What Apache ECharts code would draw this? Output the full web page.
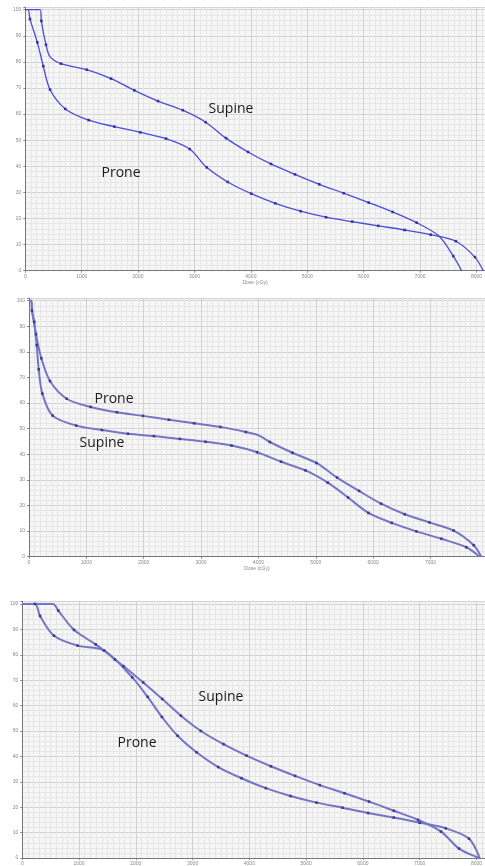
<!DOCTYPE html>
<html><head><meta charset="utf-8">
<script src="https://cdn.jsdelivr.net/npm/echarts@6/dist/echarts.min.js"></script>
<style>html,body{margin:0;padding:0;background:#fff}#c{width:485px;height:866px}</style>
</head><body><div id="c"></div>
<script>
// ---- Panel 1 ----
const p1SupineMarkers = [[284,95.7],[367,86.6],[633,79.3],[1088,77.0],[1520,73.6],[1933,69.1],[2353,65.0],[2791,61.5],[3198,56.9],[3559,50.8],[3949,45.5],[4356,40.9],[4782,36.9],[5213,33.1],[5645,29.7],[6089,26.1],[6514,22.5],[6940,18.4],[7590,5.6]];
const p1SupineShape = [[0,100],[265,100],[438,82],[7335,13.3],[7738,0]];
const p1ProneMarkers = [[83,96.4],[213,87.5],[319,78.4],[438,69.4],[709,62.0],[1124,57.7],[1578,55.2],[2039,53.0],[2495,50.6],[2915,46.6],[3216,39.6],[3589,34.0],[4007,29.5],[4433,25.8],[4883,22.8],[5332,20.5],[5798,18.8],[6259,17.2],[6727,15.6],[7188,13.8],[7636,11.3],[7973,5.2]];
const p1ProneShape = [[0,100],[50,100],[8121,0]];
// ---- Panel 2 ----
const p2ProneMarkers = [[122,86.9],[215,77.5],[366,68.6],[657,61.7],[1075,58.5],[1533,56.4],[1986,55.0],[2439,53.5],[2880,52.1],[3333,50.7],[3780,48.7],[4199,44.8],[4593,40.6],[5011,36.6],[5371,30.9],[5754,25.7],[6138,20.7],[6550,16.6],[6981,13.4],[7404,10.2],[7753,4.5]];
const p2ProneShape = [[0,100],[40,100],[52,96.1],[4012,47.3],[7886,0]];
const p2SupineMarkers = [[52,96.1],[92,91.7],[134,82.6],[169,73.2],[232,63.7],[412,55.1],[824,51.2],[1272,49.5],[1725,48.0],[2178,47.1],[2631,46.0],[3078,44.9],[3531,43.4],[3978,40.8],[4395,37.1],[4821,33.7],[5209,28.9],[5563,23.1],[5918,17.1],[6324,13.2],[6754,9.9],[7190,7.0],[7625,3.7]];
const p2SupineShape = [[0,100],[40,100],[7857,0]];
// ---- Panel 3 ----
const p3SupineMarkers = [[634,97.4],[910,89.8],[1292,84.1],[1632,78.1],[1785,75.5],[2130,69.1],[2465,62.6],[2794,56.0],[3146,50.0],[3545,44.8],[3950,40.3],[4379,36.1],[4806,32.3],[5241,28.7],[5676,25.5],[6109,22.2],[6544,18.6],[6972,15.0],[7377,10.4],[7694,3.7]];
const p3SupineShape = [[0,100],[540,100],[1438,81.7],[8000,0.4],[8060,0]];
const p3ProneMarkers = [[224,100],[312,95.3],[558,87.5],[975,83.6],[1438,81.7],[1937,71.1],[2208,63.4],[2460,55.5],[2736,48.1],[3070,41.6],[3451,35.8],[3862,31.4],[4290,27.5],[4725,24.4],[5183,21.8],[5641,19.8],[6092,17.7],[6544,15.9],[7001,13.9],[7459,11.7],[7870,7.6]];
const p3ProneShape = [[0,100],[8058,0]];

const xMax = [8150, 7950, 8150];
const yMax = 101;
const xInterval = 1000, yInterval = 10;
const axisName = 'Dose (cGy)';
const labels = [
  {text:'Supine', x:231, y:109}, {text:'Prone', x:121, y:173},
  {text:'Prone', x:114, y:399}, {text:'Supine', x:102, y:443},
  {text:'Supine', x:221, y:697}, {text:'Prone', x:137, y:743}
];

const grids = [
  {left:25.3, top:7.1, width:459.7, height:263.6},
  {left:29, top:298.1, width:456.3, height:258.6},
  {left:22.3, top:601.4, width:462.7, height:259.3}
];
const lineStyles = [
  {color:'#4c4cd8', width:1.3, mk:'#1f1f8c'},
  {color:'#7575c6', width:2, mk:'#2a2a80'},
  {color:'#7575c6', width:2, mk:'#2a2a80'}
];
function merged(a,b){return a.concat(b).slice().sort((p,q)=>p[0]-q[0]||q[1]-p[1]);}
const curves = [
  [p1SupineMarkers,p1SupineShape],[p1ProneMarkers,p1ProneShape],
  [p2ProneMarkers,p2ProneShape],[p2SupineMarkers,p2SupineShape],
  [p3SupineMarkers,p3SupineShape],[p3ProneMarkers,p3ProneShape]
];
const xAxes=[], yAxes=[], series=[];
grids.forEach((g,i)=>{
  xAxes.push({gridIndex:i,type:'value',min:0,max:xMax[i],interval:xInterval,
    name: i<2?axisName:'', nameLocation:'middle', nameGap:9,
    nameTextStyle:{fontSize:5,color:'#888'},
    axisLine:{show:true,lineStyle:{color:'#777',width:1}},
    axisTick:{show:true,length:2,lineStyle:{color:'#888'}},
    axisLabel:{fontSize:5,color:'#888',margin:3,showMaxLabel:false,formatter:v=>v%1000===0?String(v):''},
    splitLine:{show:true,lineStyle:{color:'#d2d2d2',width:1}},
    minorTick:{show:false,splitNumber:10},
    minorSplitLine:{show:true,lineStyle:{color:'#e6e6e6',width:1}}
  });
  yAxes.push({gridIndex:i,type:'value',min:0,max:yMax,interval:yInterval,
    axisLine:{show:true,lineStyle:{color:'#777',width:1}},
    axisTick:{show:true,length:2,lineStyle:{color:'#888'}},
    axisLabel:{fontSize:5,color:'#888',margin:4,formatter:v=>v%10===0?String(v):''},
    splitLine:{show:true,lineStyle:{color:'#d2d2d2',width:1}},
    minorTick:{show:false,splitNumber:5},
    minorSplitLine:{show:true,lineStyle:{color:'#e6e6e6',width:1}}
  });
});
curves.forEach((c,k)=>{
  const gi = Math.floor(k/2), st=lineStyles[gi];
  series.push({type:'line',xAxisIndex:gi,yAxisIndex:gi,data:merged(c[0],c[1]),
    smooth:0.3,showSymbol:false,symbol:'none',
    lineStyle:{color:st.color,width:st.width},z:2,silent:true});
  series.push({type:'scatter',xAxisIndex:gi,yAxisIndex:gi,data:c[0],
    symbol:'rect',symbolSize:2.6,itemStyle:{color:st.mk},z:3,silent:true});
});
const chart = echarts.init(document.getElementById('c'),null,{renderer:'canvas'});
chart.setOption({
  animation:false,
  grid: grids.map(g=>Object.assign({show:true,backgroundColor:'#f6f6f6',borderWidth:0},g)),
  xAxis:xAxes, yAxis:yAxes, series:series,
  graphic: labels.map(l=>({type:'text',x:l.x,y:l.y,z:10,
    style:{text:l.text,font:'14px "Open Sans"',fill:'#1a1a1a',align:'center',verticalAlign:'middle'}}))
});
</script></body></html>
